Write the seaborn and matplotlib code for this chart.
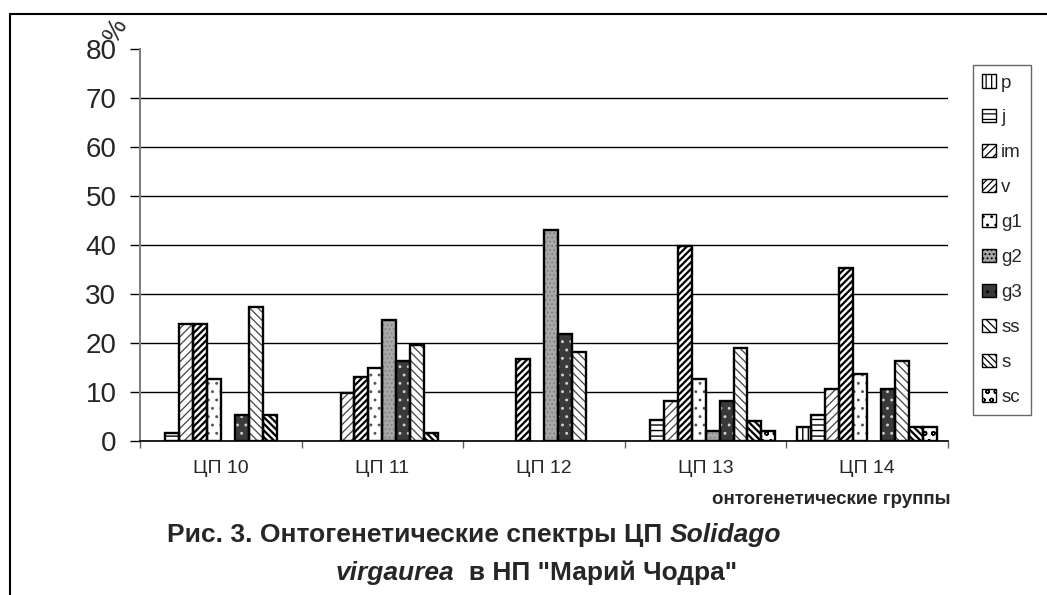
import matplotlib
matplotlib.use('Agg')
import matplotlib.pyplot as plt
import pandas as pd
import seaborn as sns
from matplotlib.patches import Patch, Rectangle
from matplotlib.lines import Line2D

# ontogenetic spectra, % of individuals per stage
groups = ['ЦП 10', 'ЦП 11', 'ЦП 12', 'ЦП 13', 'ЦП 14']
stages = ['p', 'j', 'im', 'v', 'g1', 'g2', 'g3', 'ss', 's', 'sc']

p_vals = [0, 0, 0, 0, 2.8]
j_vals = [1.6, 0, 0, 4.2, 5.3]
im_vals = [23.8, 9.8, 0, 8.2, 10.7]
v_vals = [23.8, 13.1, 16.8, 39.8, 35.3]
g1_vals = [12.7, 14.8, 0, 12.7, 13.6]
g2_vals = [0, 24.6, 43.1, 2.1, 0]
g3_vals = [5.3, 16.4, 21.8, 8.2, 10.7]
ss_vals = [27.4, 19.6, 18.1, 18.9, 16.4]
s_vals = [5.3, 1.6, 0, 4.1, 2.9]
sc_vals = [0, 0, 0, 2.1, 2.9]

yticks = [0, 10, 20, 30, 40, 50, 60, 70, 80]

# black & white fill patterns: (face, hatch, hatch colour, hatch width)
styles = {
    'p':  ('white', '|||', 'black', 1.0),
    'j':  ('white', '---', 'black', 1.0),
    'im': ('white', '////', '#444444', 0.9),
    'v':  ('white', '/////', 'black', 1.6),
    'g1': ('white', '..', '#555555', 0.9),
    'g2': ('#a8a8a8', '....', '#808080', 0.8),
    'g3': ('#3a3a3a', '..', '#d0d0d0', 0.9),
    'ss': ('white', '\\\\\\\\', '#444444', 0.9),
    's':  ('white', '\\\\\\\\\\', 'black', 1.6),
    'sc': ('white', 'oo', 'black', 1.0),
}

all_vals = [p_vals, j_vals, im_vals, v_vals, g1_vals, g2_vals,
            g3_vals, ss_vals, s_vals, sc_vals]
df = pd.DataFrame([(g, st, v) for st, vals in zip(stages, all_vals)
                   for g, v in zip(groups, vals)],
                  columns=['group', 'stage', 'value'])

sns.set_style('white')
plt.rcParams['font.family'] = ['Liberation Sans', 'DejaVu Sans']
plt.rcParams['hatch.linewidth'] = 0.9

W, H = 1047, 595
fig = plt.figure(figsize=(W / 100, H / 100), dpi=100)
ax = fig.add_axes([140 / W, 1 - 441 / H, (948 - 140) / W, (441 - 49) / H])

sns.barplot(data=df, x='group', y='value', hue='stage', order=groups,
            hue_order=stages, palette={k: v[0] for k, v in styles.items()},
            width=0.864, gap=0, errorbar=None, saturation=1,
            legend=False, ax=ax)

for st, cont in zip(stages, ax.containers):
    face, hatch, hcol, hlw = styles[st]
    for bar in cont:
        bar.set_hatch(hatch)
        bar.set_edgecolor(hcol)
        bar.set_linewidth(0)
        if hasattr(bar, 'set_hatch_linewidth'):
            bar.set_hatch_linewidth(hlw)
        if bar.get_height() > 0:
            ax.add_patch(Rectangle(bar.get_xy(), bar.get_width(), bar.get_height(),
                                   fill=False, ec='black', lw=1.7, zorder=3))

ax.set_ylim(0, 80)
ax.set_xlim(-0.5, len(groups) - 0.5)
ax.set_yticks(yticks)
ax.set_yticklabels([str(t) for t in yticks], fontsize=20)
ax.set_xlabel('')
ax.set_ylabel('')
ax.yaxis.grid(True, color='black', lw=1)
ax.get_ygridlines()[-1].set_visible(False)
ax.set_axisbelow(True)

for side in ['top', 'right']:
    ax.spines[side].set_visible(False)
ax.spines['left'].set_color('#808080')
ax.spines['left'].set_linewidth(1.5)
ax.spines['bottom'].set_color('black')
ax.spines['bottom'].set_linewidth(1.2)

ax.tick_params(axis='y', direction='out', length=7, width=1, color='black',
               left=True, pad=10)
ax.set_xticks([i + 0.5 for i in range(-1, len(groups))], minor=True)
ax.tick_params(axis='x', which='minor', direction='out', length=5, width=1,
               color='#606060', bottom=True)
ax.tick_params(axis='x', which='major', length=0, pad=14, labelsize=14)

handles = [Patch(facecolor=styles[st][0], hatch=styles[st][1], edgecolor='black',
                 lw=1) for st in stages]
leg = fig.legend(handles, stages, loc='upper left',
                 bbox_to_anchor=(973 / W, 1 - 65 / H), fontsize=13.5,
                 frameon=True, fancybox=False, handlelength=0.7, handleheight=0.7,
                 handletextpad=0.3, labelspacing=0.95, borderpad=0.5,
                 borderaxespad=0)
leg.get_frame().set_edgecolor('#404040')
leg.get_frame().set_linewidth(1)


def px(x, y):
    return x / W, 1 - y / H


fig.text(*px(116, 30), '%', fontsize=19, rotation=60, ha='center', va='center')
fig.text(*px(950, 500), 'онтогенетические группы', fontsize=13.5,
         fontweight='bold', ha='right', va='center')


def mixed_line(pieces, cx, cy, size):
    texts = [fig.text(0, 0, s, fontsize=size, fontweight='bold', style=st,
                      ha='left', va='center') for s, st in pieces]
    fig.canvas.draw()
    r = fig.canvas.get_renderer()
    widths = [t.get_window_extent(r).width for t in texts]
    x = cx - sum(widths) / 2
    for t, w in zip(texts, widths):
        t.set_position(px(x, cy))
        x += w


mixed_line([('Рис. 3. Онтогенетические спектры ЦП ', 'normal'),
            ('Solidago', 'italic')], 474, 535, 19)
mixed_line([('virgaurea', 'italic'), ('  в НП "Марий Чодра"', 'normal')],
           536, 573, 19)

# outer frame of the figure
fig.add_artist(Line2D([10 / W, 1], [1 - 14 / H] * 2, color='black', lw=1.5,
                      transform=fig.transFigure))
fig.add_artist(Line2D([10 / W] * 2, [0, 1 - 14 / H], color='black', lw=1.5,
                      transform=fig.transFigure))

fig.savefig('out.png', dpi=100)
